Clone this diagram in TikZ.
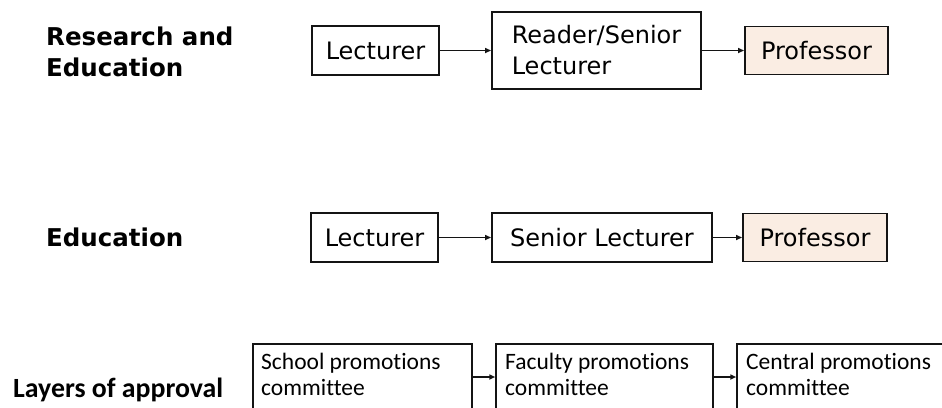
\documentclass[tikz,border=0pt]{standalone}
\usepackage{fontspec}
\setmainfont{DejaVu Sans}
\newfontfamily\calib[Ligatures=NoCommon]{Carlito}
\usetikzlibrary{arrows.meta}
\definecolor{ink}{RGB}{20,20,20}
\definecolor{peach}{RGB}{250,237,227}
\begin{document}
\begin{tikzpicture}[x=1pt,y=-1pt,
  rank/.style={draw=ink, line width=1.9pt, font=\fontsize{24}{31}\selectfont, inner sep=0pt, align=left},
  prof/.style={rank, fill=peach},
  cbox/.style={draw=ink, line width=1.5pt, inner sep=0pt, minimum height=66pt},
  ctext/.style={font=\calib\fontsize{23.5}{26}\selectfont, inner sep=0pt, anchor=north west, align=left},
  head/.style={font=\bfseries\fontsize{24.5}{31}\selectfont, inner sep=0pt, align=left},
  arr/.style={draw=ink, line width=1.6pt, -{Triangle[length=6pt,width=5pt]}},
]
\useasboundingbox (0,0) rectangle (942,407);

% headings
\node[head, anchor=north west] (h1) at (46,26.4) {Research and\\Education};
\node[head, anchor=base west] (h2) at (46,246) {Education};
\node[font=\calib\bfseries\fontsize{27.8}{31}\selectfont, inner sep=0pt, anchor=base west] (h3) at (13,397) {Layers of approval};

% row 1
\node[rank, minimum width=127pt, minimum height=49pt] (l1) at (375.5,50.5) {Lecturer};
\node[rank, minimum width=209pt, minimum height=77pt] (r1) at (596.5,50.5) {Reader/Senior\\Lecturer};
\node[prof, minimum width=143pt, minimum height=48pt] (p1) at (816.5,50.5) {Professor};
\draw[arr] (l1) -- (r1);
\draw[arr] (r1) -- (p1);

% row 2
\node[rank, minimum width=127pt, minimum height=49pt] (l2) at (374.5,237.5) {Lecturer};
\node[rank, minimum width=220pt, minimum height=49pt] (s2) at (602,237.5) {Senior Lecturer};
\node[prof, minimum width=144pt, minimum height=48pt] (p2) at (815,237.5) {Professor};
\draw[arr] (l2) -- (s2);
\draw[arr] (s2) -- (p2);

% row 3
\node[cbox, minimum width=219pt] (sc) at (362.5,377) {};
\node[cbox, minimum width=217pt] (fc) at (604.5,377) {};
\node[cbox, minimum width=230pt] (cc) at (852,377) {};
\node[ctext] (sct) at (261,352.5) {School promotions\\committee};
\node[ctext] (fct) at (505,352.5) {Faculty promotions\\committee};
\node[ctext] (cct) at (746,352.5) {Central promotions\\committee};
\draw[arr] (sc) -- (fc);
\draw[arr] (fc) -- (cc);
\end{tikzpicture}
\end{document}
